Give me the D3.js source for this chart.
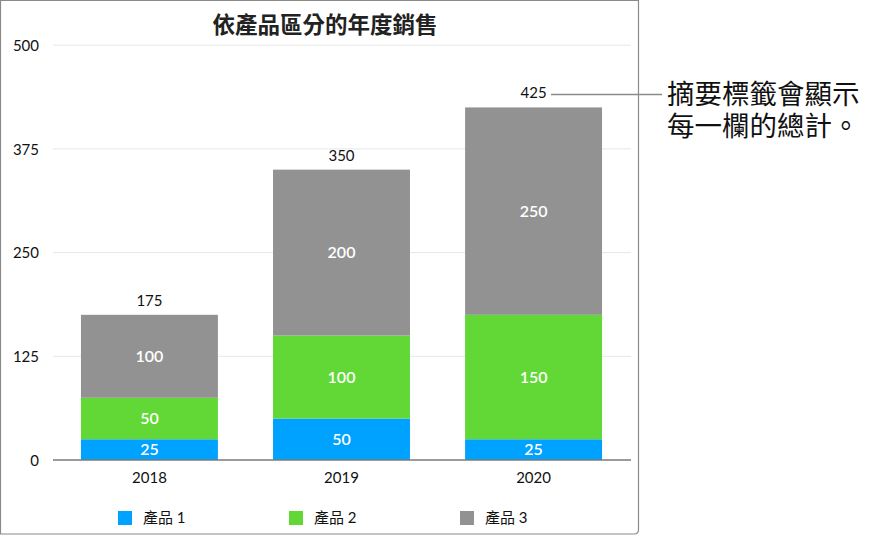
<!DOCTYPE html>
<html><head><meta charset="utf-8">
<script src="https://cdn.jsdelivr.net/npm/d3@7"></script>
<style>
html,body{margin:0;padding:0;background:#fff;}
svg{display:block;font-family:Lato,"Noto Sans CJK TC",sans-serif;}
</style></head>
<body><svg id="c" width="886" height="535"></svg>
<script>
const title = "依產品區分的年度銷售";
const years = ["2018","2019","2020"];
const seriesNames = ["產品 1","產品 2","產品 3"];
const product1 = [25, 50, 25];
const product2 = [50, 100, 150];
const product3 = [100, 200, 250];
const yTicks = [0, 125, 250, 375, 500];
const colors = ["#00A2FF","#61D836","#929292"];
const calloutLines = ["摘要標籤會顯示","每一欄的總計。"];

const svg = d3.select("#c");
const rows = years.map((y,i)=>({year:y, p1:product1[i], p2:product2[i], p3:product3[i]}));
const keys = ["p1","p2","p3"];
const stack = d3.stack().keys(keys)(rows);

const x = d3.scaleBand().domain(years).range([53.5, 629.5]).paddingInner(0.287).paddingOuter(0.143);
const y = d3.scaleLinear().domain([0,500]).range([460, 45.2]);

// border
svg.append("path")
  .attr("d","M0.5,0.5 H638.5 V529.5 Q638.5,534 634,534 H0.5 Z")
  .attr("fill","none").attr("stroke","#8a8a8a").attr("stroke-width",1.2);

// grid
svg.append("g").selectAll("line").data(yTicks.filter(d=>d>0)).join("line")
  .attr("x1",53).attr("x2",631).attr("y1",d=>y(d)).attr("y2",d=>y(d))
  .attr("stroke","#e6e6e6").attr("stroke-width",1);

// y labels
const yAxis = d3.axisLeft(y).tickValues(yTicks).tickSize(0).tickPadding(0);
const ya = svg.append("g").attr("transform","translate(39,0)").call(yAxis);
ya.select(".domain").remove();
ya.selectAll("text").attr("font-size",15).attr("fill","#111").attr("font-family","Lato,sans-serif").attr("dy","0.35em");

// bars
const g = svg.append("g");
stack.forEach((s,si)=>{
  g.append("g").selectAll("rect").data(s).join("rect")
    .attr("x",d=>x(d.data.year)).attr("width",x.bandwidth())
    .attr("y",d=>y(d[1])).attr("height",d=>y(d[0])-y(d[1]))
    .attr("fill",colors[si]);
  g.append("g").selectAll("text").data(s).join("text")
    .attr("x",d=>x(d.data.year)+x.bandwidth()/2)
    .attr("y",d=>(y(d[0])+y(d[1]))/2)
    .attr("dy","0.36em").attr("text-anchor","middle")
    .attr("fill","#fff").attr("font-size",16).attr("font-weight",600)
    .text(d=>d[1]-d[0]);
});

// totals
const last = stack[stack.length-1];
svg.append("g").selectAll("text").data(last).join("text")
  .attr("x",d=>x(d.data.year)+x.bandwidth()/2)
  .attr("y",d=>y(d[1])-9)
  .attr("text-anchor","middle").attr("font-size",15).attr("fill","#111")
  .text(d=>d[1]);

// baseline / x axis
const xAxis = d3.axisBottom(x).tickSize(0).tickPadding(12);
const xa = svg.append("g").attr("transform",`translate(0,${y(0)})`).call(xAxis);
xa.select(".domain").remove();
xa.selectAll("text").attr("font-size",15).attr("fill","#111").attr("font-family","Lato,sans-serif");
svg.append("line").attr("x1",53).attr("x2",631).attr("y1",y(0)).attr("y2",y(0))
  .attr("stroke","#7a7a7a").attr("stroke-width",1.3);

// title
svg.append("text").attr("x",325).attr("y",33).attr("text-anchor","middle")
  .attr("font-size",22.5).attr("font-weight",700).attr("fill","#222")
  .attr("font-family","'Noto Sans CJK TC',sans-serif").text(title);

// legend
const lg = svg.append("g").selectAll("g").data(seriesNames).join("g")
  .attr("transform",(d,i)=>`translate(${118+i*171},511)`);
lg.append("rect").attr("width",14).attr("height",14).attr("fill",(d,i)=>colors[i]);
lg.append("text").attr("x",25).attr("y",7).attr("dy","0.36em")
  .attr("font-size",15).attr("fill","#111").text(d=>d);

// callout
const lastTot = last[last.length-1];
svg.append("line").attr("x1",551).attr("x2",662)
  .attr("y1",y(lastTot[1])-13).attr("y2",y(lastTot[1])-13)
  .attr("stroke","#8a8a8a").attr("stroke-width",1.5);
const ct = svg.append("text").attr("x",667).attr("y",94)
  .attr("font-size",27.5).attr("fill","#111")
  .attr("font-family","'Noto Sans CJK TC',sans-serif");
ct.selectAll("tspan").data(calloutLines).join("tspan")
  .attr("x",667).attr("y",(d,i)=>94+i*32).attr("dy","0.36em").text(d=>d);
</script></body></html>
